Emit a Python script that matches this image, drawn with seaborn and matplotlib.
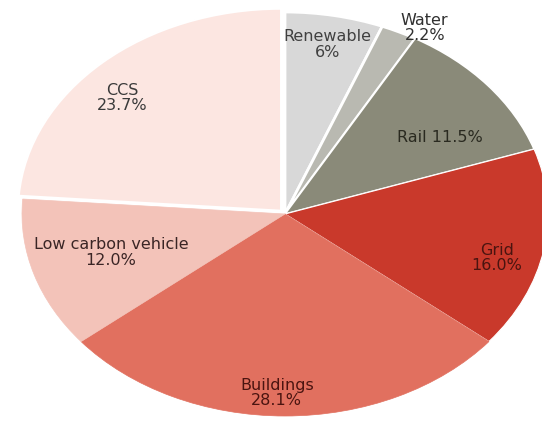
import numpy as np
import matplotlib
matplotlib.use("Agg")
import matplotlib.pyplot as plt
import seaborn as sns

# ---- data ----
categories = ["Renewable", "Water", "Rail", "Grid", "Buildings", "Low carbon vehicle", "CCS"]
values = [6.0, 2.2, 11.5, 16.0, 28.1, 12.0, 23.7]
value_labels = ["6%", "2.2%", "11.5%", "16.0%", "28.1%", "12.0%", "23.7%"]

# ---- style ----
sns.set_theme(style="white")
plt.rcParams["font.family"] = ["DejaVu Sans"]
colors = sns.color_palette(["#d8d8d8", "#b9b9b1", "#8a8a79", "#c9392b",
                            "#e1705f", "#f3c3b9", "#fce6e1"])
explode = [0.0, 0.0, 0.0, 0.0, 0.0, 0.0, 0.022]

W, H = 542, 429
fig = plt.figure(figsize=(W / 100, H / 100), dpi=100)
ax = fig.add_axes([0, 0, 1, 1])

wedges, _ = ax.pie(values, startangle=90, counterclock=False, colors=colors,
                   explode=explode,
                   wedgeprops=dict(edgecolor="white", linewidth=1.8))

# per-wedge edge styling (white separators only around the grey slices / CCS)
edge_lw = [2.0, 2.0, 1.2, 0.8, 0.0, 0.0, 1.5]
for w, lw in zip(wedges, edge_lw):
    if lw == 0:
        w.set_edgecolor(w.get_facecolor())
        w.set_linewidth(0.5)
    else:
        w.set_linewidth(lw)

# elliptical pie: different pixel scale in x and y
cx, cy = 285, 214          # pixel position of the pie centre (from top-left)
rx, ry = 263, 202          # pixel radii
ax.set_aspect("auto")
ax.set_xlim(-cx / rx, (W - cx) / rx)
ax.set_ylim(-(H - cy) / ry, cy / ry)
ax.axis("off")

# label layout: (radius factor, angle nudge in degrees, single-line?)
layout = [(0.855, 0, False), (1.063, -4.3, False), (0.70, -6.6, True), (0.835, -4.9, False),
          (0.887, -2, False), (0.688, -1.5, False), (0.846, 4.3, False)]
text_colors = ["#404040", "#303030", "#2a2a20", "#4a1410", "#4a1410", "#3a2525", "#3a3a3a"]

for w, cat, vl, (r, dang, single), tc in zip(wedges, categories, value_labels, layout, text_colors):
    mid = np.deg2rad((w.theta1 + w.theta2) / 2 + dang)
    x, y = r * np.cos(mid), r * np.sin(mid)
    txt = f"{cat} {vl}" if single else f"{cat}\n{vl}"
    ax.text(x, y, txt, ha="center", va="center", fontsize=11.5, color=tc,
            linespacing=1.05)

fig.savefig("out.png", dpi=100)
